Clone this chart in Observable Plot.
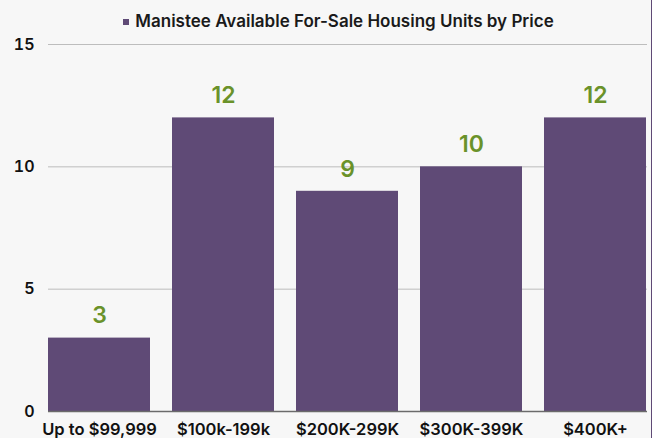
<!DOCTYPE html>
<html>
<head>
<meta charset="utf-8">
<script src="https://cdn.jsdelivr.net/npm/d3@7"></script>
<script src="https://cdn.jsdelivr.net/npm/@observablehq/plot@0.6"></script>
<style>
  html, body { margin: 0; padding: 0; background: #f7f7f7; }
  #wrap { position: relative; width: 651px; height: 438px; border-right: 1px solid #5f4a76; overflow: hidden; }
  #title { height: 28px; display: flex; align-items: center; justify-content: center; padding-left: 26px;
           font-family: Inter, sans-serif; font-weight: 600; font-size: 17px; color: #1a1a1a; box-sizing: border-box; padding-top: 14px; }
  #title .sw { display: inline-block; width: 6px; height: 6px; background: #5f4a76; margin-right: 6px; position: relative; top: 1px; }
  svg { display: block; }
</style>
</head>
<body>
<div id="wrap">
  <div id="title"><span class="sw"></span>Manistee Available For-Sale Housing Units by Price</div>
  <div id="chart"></div>
</div>
<script>
const categories = ["Up to $99,999", "$100k-199k", "$200K-299K", "$300K-399K", "$400K+"];
const units = [3, 12, 9, 10, 12];
const yTicks = [0, 5, 10, 15];

const data = categories.map((c, i) => ({category: c, value: units[i]}));

const chart = Plot.plot({
  width: 651,
  height: 410,
  marginLeft: 48,
  marginRight: 4,
  marginTop: 16,
  marginBottom: 27,
  style: {background: "transparent", fontFamily: "Inter, sans-serif"},
  x: {domain: categories, paddingInner: 0.175, paddingOuter: 0, label: null},
  y: {domain: [0, 15], label: null},
  marks: [
    Plot.gridY(yTicks, {stroke: "#bdbdbd", strokeOpacity: 1, strokeWidth: 1}),
    Plot.barY(data, {x: "category", y: "value", fill: "#5f4a76"}),
    Plot.ruleY([0], {stroke: "#6b6b6b", strokeWidth: 1.5}),
    Plot.text(data, {x: "category", y: "value", text: d => String(d.value), dy: -22,
      fill: "#6a922a", fontSize: 23, fontWeight: 600}),
    Plot.axisY(yTicks, {tickSize: 0, tickPadding: 14, fontSize: 16, fontWeight: 600, fill: "#111", label: null}),
    Plot.axisX({tickSize: 0, tickPadding: 12, fontSize: 16.5, fontWeight: 600, fill: "#111", label: null})
  ]
});
document.getElementById("chart").appendChild(chart);
</script>
</body>
</html>
